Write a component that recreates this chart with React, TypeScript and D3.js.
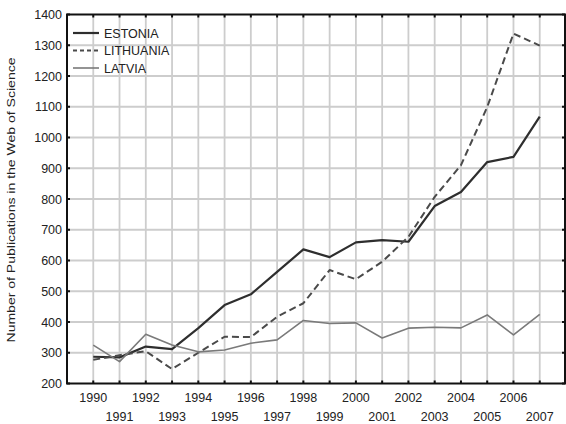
import React from "react";
import * as d3 from "d3";

const years = [1990, 1991, 1992, 1993, 1994, 1995, 1996, 1997, 1998, 1999, 2000, 2001, 2002, 2003, 2004, 2005, 2006, 2007];
const estonia = [287, 285, 320, 312, 380, 455, 490, 563, 636, 611, 659, 666, 661, 777, 823, 920, 937, 1068];
const lithuania = [277, 292, 305, 247, 300, 352, 351, 417, 461, 569, 539, 596, 677, 807, 910, 1099, 1338, 1299];
const latvia = [325, 271, 360, 325, 303, 309, 331, 342, 405, 395, 397, 348, 380, 383, 381, 423, 358, 425];
const yTicks = [200, 300, 400, 500, 600, 700, 800, 900, 1000, 1100, 1200, 1300, 1400];
const seriesNames = ["ESTONIA", "LITHUANIA", "LATVIA"];
const yLabel = "Number of Publications in the Web of Science";

export default function App() {
  const W = 566, H = 424;
  const x = d3.scaleLinear().domain([1989, 2008]).range([67, 566]);
  const y = d3.scaleLinear().domain([200, 1400]).range([383.5, 14.5]);
  const line = d3.line<number>().x((_, i) => x(years[i])).y((d) => y(d));
  const series = [
    { name: seriesNames[0], data: estonia, stroke: "#2e2e2e", width: 2.2, dash: "" },
    { name: seriesNames[1], data: lithuania, stroke: "#4a4a4a", width: 2, dash: "7,4" },
    { name: seriesNames[2], data: latvia, stroke: "#7a7a7a", width: 1.6, dash: "" },
  ];
  const font = "'Liberation Sans', Arial, sans-serif";
  const x0 = x(1989), x1 = x(2008), yTop = y(1400), yBot = y(200);
  return (
    <svg width={W} height={H} style={{ position: "absolute", left: 0, top: 0, background: "#fff" }}>
      {years.map((yr) => (
        <line key={"gx" + yr} x1={x(yr)} x2={x(yr)} y1={yTop} y2={yBot} stroke="#cdcdcd" strokeWidth={1.8} />
      ))}
      {yTicks.slice(1, -1).map((v) => (
        <line key={"gy" + v} x1={x0} x2={x1} y1={y(v)} y2={y(v)} stroke="#cdcdcd" strokeWidth={1.8} />
      ))}
      {series.map((s) => (
        <path key={s.name} d={line(s.data) || ""} fill="none" stroke={s.stroke} strokeWidth={s.width}
          strokeDasharray={s.dash || undefined} strokeLinejoin="round" />
      ))}
      <rect x={x0} y={yTop} width={x1 - x0 - 1} height={yBot - yTop} fill="none" stroke="#111" strokeWidth={2} />
      {years.map((yr) => (
        <g key={"t" + yr}>
          <line x1={x(yr)} x2={x(yr)} y1={yBot - 3} y2={yBot} stroke="#111" strokeWidth={2} />
          <line x1={x(yr)} x2={x(yr)} y1={yTop} y2={yTop + 3} stroke="#111" strokeWidth={2} />
        </g>
      ))}
      {yTicks.map((v) => (
        <g key={"ty" + v}>
          <line x1={x0} x2={x0 + 3} y1={y(v)} y2={y(v)} stroke="#111" strokeWidth={2} />
          <line x1={x1 - 4} x2={x1 - 1} y1={y(v)} y2={y(v)} stroke="#111" strokeWidth={2} />
          <text x={62} y={y(v) + 4.5} textAnchor="end" fontFamily={font} fontSize={12.5} fill="#222">{v}</text>
        </g>
      ))}
      {years.map((yr, i) => (
        <text key={"xl" + yr} x={x(yr)} y={i % 2 === 0 ? 402 : 421} textAnchor="middle" fontFamily={font} fontSize={12.5} fill="#222">{yr}</text>
      ))}
      <text transform={`translate(15,200) rotate(-90)`} textAnchor="middle" fontFamily={font} fontSize={11.5} fill="#222"
        textLength={285} lengthAdjust="spacingAndGlyphs">{yLabel}</text>
      {series.map((s, i) => (
        <g key={"lg" + s.name}>
          <line x1={73} x2={99} y1={33 + i * 17.5} y2={33 + i * 17.5} stroke={s.stroke} strokeWidth={s.width} strokeDasharray={s.dash ? "4,3" : undefined} />
          <text x={104} y={37.5 + i * 17.5} fontFamily={font} fontSize={12.5} fill="#222">{s.name}</text>
        </g>
      ))}
    </svg>
  );
}
